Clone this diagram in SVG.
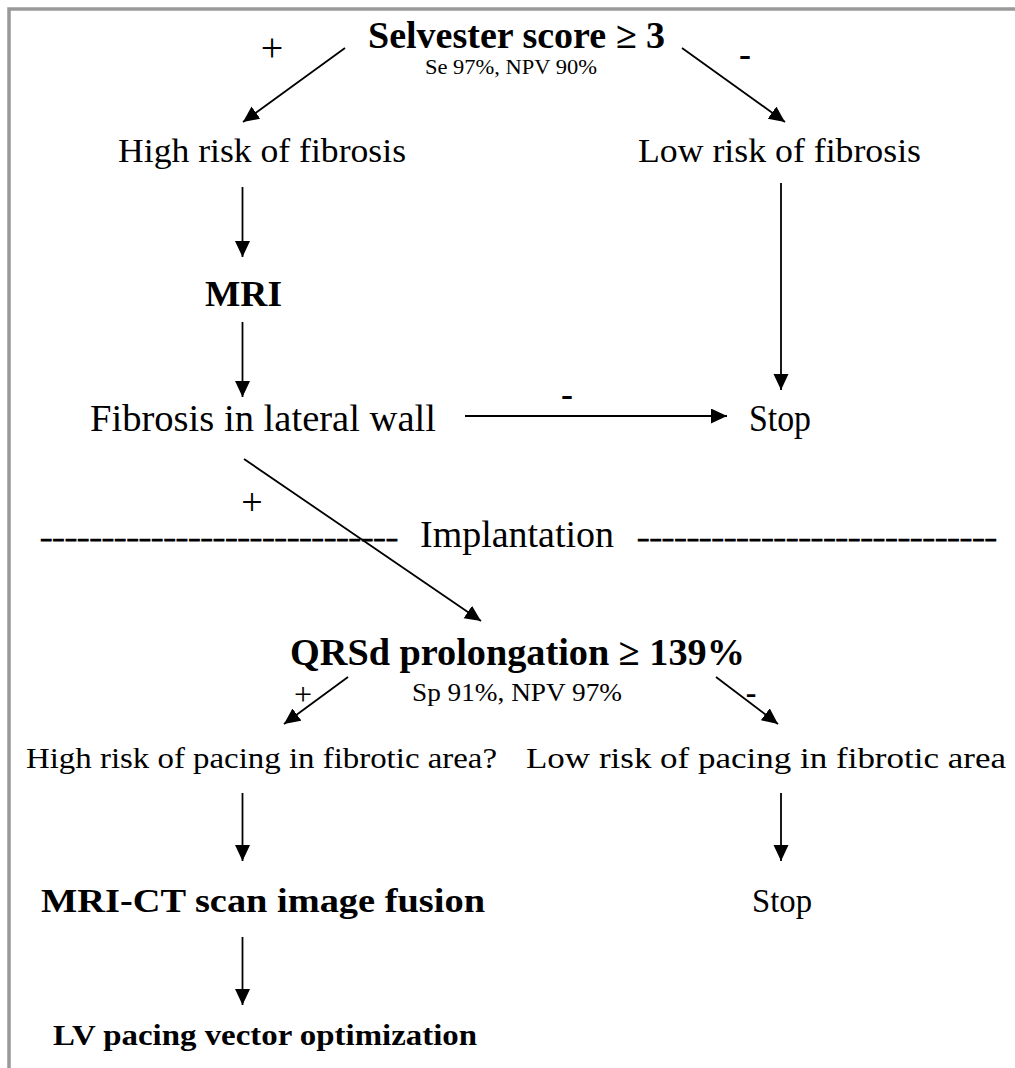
<svg xmlns="http://www.w3.org/2000/svg" width="1015" height="1068" viewBox="0 0 1015 1068">
<style>
  text { fill: #000; }
  .b { font-weight: bold; }
  .conn line { stroke: #000; stroke-width: 1.8; fill: none; }
  .dash { stroke: #000; stroke-width: 0.9; }
</style>
<defs>
  <marker id="ah" markerUnits="userSpaceOnUse" markerWidth="17" markerHeight="16" refX="16" refY="7.5" orient="auto">
    <path d="M0,0 L16,7.5 L0,15 z" fill="#000"/>
  </marker>
</defs>
<rect width="1015" height="1068" fill="#fff"/>
<path d="M9,1068 V9 H1015" fill="none" stroke="#999" stroke-width="3.5"/>

<g class="conn">
  <line x1="345" y1="48" x2="243" y2="122" marker-end="url(#ah)"/>
  <line x1="682" y1="48" x2="785" y2="122" marker-end="url(#ah)"/>
  <line x1="242.5" y1="187" x2="242.5" y2="257" marker-end="url(#ah)"/>
  <line x1="781" y1="183" x2="781" y2="390" marker-end="url(#ah)"/>
  <line x1="242.5" y1="322" x2="242.5" y2="397" marker-end="url(#ah)"/>
  <line x1="465" y1="416" x2="727" y2="416" marker-end="url(#ah)"/>
  <line x1="244" y1="459" x2="481" y2="621" marker-end="url(#ah)"/>
  <line x1="348" y1="677" x2="284" y2="724" marker-end="url(#ah)"/>
  <line x1="716" y1="677" x2="778" y2="724" marker-end="url(#ah)"/>
  <line x1="242.5" y1="793" x2="242.5" y2="861" marker-end="url(#ah)"/>
  <line x1="781" y1="793" x2="781" y2="861" marker-end="url(#ah)"/>
  <line x1="242.5" y1="937" x2="242.5" y2="1005" marker-end="url(#ah)"/>
</g>

<g font-family="'Liberation Serif', 'Times New Roman', serif">
<g id="labels">
  <text x="272" y="61" font-size="40" text-anchor="middle">+</text>
  <text x="745" y="66" font-size="36" class="b" text-anchor="middle">-</text>
  <text x="567" y="406" font-size="36" class="b" text-anchor="middle">-</text>
  <text x="252" y="515" font-size="38" text-anchor="middle">+</text>
  <text x="303" y="705" font-size="32" text-anchor="middle">+</text>
  <text x="751" y="703" font-size="32" class="b" text-anchor="middle">-</text>
</g>

<g id="selvester">
  <text x="368" y="48" font-size="37" class="b" textLength="297" lengthAdjust="spacingAndGlyphs">Selvester score ≥ 3</text>
  <text x="425" y="74" font-size="21" textLength="172" lengthAdjust="spacingAndGlyphs">Se 97%, NPV 90%</text>
</g>
<g id="high-risk-fibrosis">
  <text x="118" y="162" font-size="34" textLength="288" lengthAdjust="spacingAndGlyphs">High risk of fibrosis</text>
</g>
<g id="low-risk-fibrosis">
  <text x="638" y="162" font-size="34" textLength="283" lengthAdjust="spacingAndGlyphs">Low risk of fibrosis</text>
</g>
<g id="mri">
  <text x="205" y="306" font-size="35" class="b" textLength="77" lengthAdjust="spacingAndGlyphs">MRI</text>
</g>
<g id="fibrosis-lateral">
  <text x="90" y="431" font-size="37" textLength="346" lengthAdjust="spacingAndGlyphs">Fibrosis in lateral wall</text>
</g>
<g id="stop1">
  <text x="749" y="431" font-size="37" textLength="62" lengthAdjust="spacingAndGlyphs">Stop</text>
</g>
<g id="implantation">
  <text x="40" y="546" font-size="26" class="dash" textLength="358" lengthAdjust="spacingAndGlyphs">-----------------------------</text>
  <text x="420" y="547" font-size="37" textLength="194" lengthAdjust="spacingAndGlyphs">Implantation</text>
  <text x="637" y="546" font-size="26" class="dash" textLength="360" lengthAdjust="spacingAndGlyphs">-----------------------------</text>
</g>
<g id="qrsd">
  <text x="290" y="665" font-size="38" class="b" textLength="455" lengthAdjust="spacingAndGlyphs">QRSd prolongation ≥ 139%</text>
  <text x="412" y="701" font-size="26" textLength="210" lengthAdjust="spacingAndGlyphs">Sp 91%, NPV 97%</text>
</g>
<g id="high-risk-pacing">
  <text x="26" y="768" font-size="29" textLength="471" lengthAdjust="spacingAndGlyphs">High risk of pacing in fibrotic area?</text>
</g>
<g id="low-risk-pacing">
  <text x="526" y="768" font-size="29" textLength="480" lengthAdjust="spacingAndGlyphs">Low risk of pacing in fibrotic area</text>
</g>
<g id="fusion">
  <text x="41" y="912" font-size="33" class="b" textLength="444" lengthAdjust="spacingAndGlyphs">MRI-CT scan image fusion</text>
</g>
<g id="stop2">
  <text x="752" y="912" font-size="33" textLength="60" lengthAdjust="spacingAndGlyphs">Stop</text>
</g>
<g id="lv-pacing">
  <text x="53" y="1045" font-size="30" class="b" textLength="424" lengthAdjust="spacingAndGlyphs">LV pacing vector optimization</text>
</g>
</g>
</svg>
